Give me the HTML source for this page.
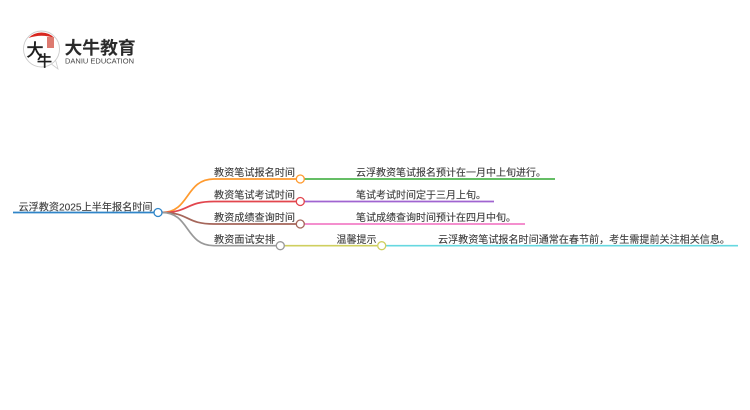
<!DOCTYPE html>
<html><head><meta charset="utf-8"><style>
html,body{margin:0;padding:0;background:#fff;width:750px;height:410px;overflow:hidden}
svg{display:block}
text{font-family:"Liberation Sans","Noto Sans CJK SC",sans-serif;font-size:10.2px;fill:#3c3c3c;stroke:#3c3c3c;stroke-width:0.12px}
</style></head><body>
<svg width="750" height="410" viewBox="0 0 750 410" xmlns="http://www.w3.org/2000/svg">
<!-- logo -->
<path d="M50 63 L58 69 L55 58Z" fill="#fff" stroke="#ccc" stroke-width="0.8"/>
<circle cx="41.500" cy="49" r="18" fill="#fff" stroke="#ccc" stroke-width="0.9"/>
<path d="M28.500 38 A18 18 0 0 1 54.500 38 Q41.500 33.500 28.500 38Z" fill="#d8261f"/>
<rect x="47" y="37" width="7" height="11" fill="#dd7a70"/>
<text x="26.500" y="56" style="font-size:17px;fill:#1c1c1c;stroke:#1c1c1c;stroke-width:0.5px">大</text>
<text x="37" y="66" style="font-size:15px;fill:#1c1c1c;stroke:#1c1c1c;stroke-width:0.5px">牛</text>
<text x="64.500" y="54" style="font-size:17.800px;font-weight:700;fill:#2b2b2b;stroke:none">大牛教育</text>
<text x="65" y="63.500" style="font-size:7.600px;fill:#444;stroke:none" textLength="69" lengthAdjust="spacingAndGlyphs">DANIU EDUCATION</text>
<!-- connectors -->
<g fill="none" stroke-width="1.7">
<path d="M13 212.500H154" stroke="#2f85c8"/>
<path d="M162 212.500C190 212.500 185 179 214 179H296" stroke="#ff9a2e"/>
<path d="M162 212.500C190 212.500 185 201.500 214 201.500H296" stroke="#e2464e"/>
<path d="M162 212.500C190 212.500 185 224 214 224H296" stroke="#a5665a"/>
<path d="M162 212.500C190 212.500 185 245.700 214 245.700H276" stroke="#999"/>
<path d="M304.500 179H555" stroke="#4fb54f"/>
<path d="M304.500 201.500H494" stroke="#a064d0"/>
<path d="M304.500 224H525" stroke="#f27fc7"/>
<path d="M284.500 245.700H377" stroke="#cfcf5f"/>
<path d="M386 245.700H738" stroke="#66d8e0"/>
</g>
<g fill="#fff" stroke-width="1.300">
<circle cx="158" cy="212.500" r="4" stroke="#2f85c8"/>
<circle cx="300.300" cy="179" r="4" stroke="#ff9a2e"/>
<circle cx="300.300" cy="201.500" r="4" stroke="#e2464e"/>
<circle cx="300.300" cy="224" r="4" stroke="#a5665a"/>
<circle cx="280.300" cy="245.700" r="4" stroke="#999"/>
<circle cx="381.700" cy="245.700" r="4" stroke="#cfcf5f"/>
</g>
<!-- labels -->
<text x="18.500" y="210.500" textLength="134" lengthAdjust="spacingAndGlyphs">云浮教资2025上半年报名时间</text>
<text x="214" y="176" textLength="81" lengthAdjust="spacingAndGlyphs">教资笔试报名时间</text>
<text x="214" y="198.500" textLength="81" lengthAdjust="spacingAndGlyphs">教资笔试考试时间</text>
<text x="214" y="221" textLength="81" lengthAdjust="spacingAndGlyphs">教资成绩查询时间</text>
<text x="214" y="243" textLength="61" lengthAdjust="spacingAndGlyphs">教资面试安排</text>
<text x="356" y="176" textLength="190" lengthAdjust="spacingAndGlyphs">云浮教资笔试报名预计在一月中上旬进行。</text>
<text x="356" y="198.500" textLength="130" lengthAdjust="spacingAndGlyphs">笔试考试时间定于三月上旬。</text>
<text x="356" y="221" textLength="160" lengthAdjust="spacingAndGlyphs">笔试成绩查询时间预计在四月中旬。</text>
<text x="336.500" y="243" textLength="40" lengthAdjust="spacingAndGlyphs">温馨提示</text>
<text x="438" y="243" textLength="292" lengthAdjust="spacingAndGlyphs">云浮教资笔试报名时间通常在春节前，考生需提前关注相关信息。</text>
</svg>
</body></html>
